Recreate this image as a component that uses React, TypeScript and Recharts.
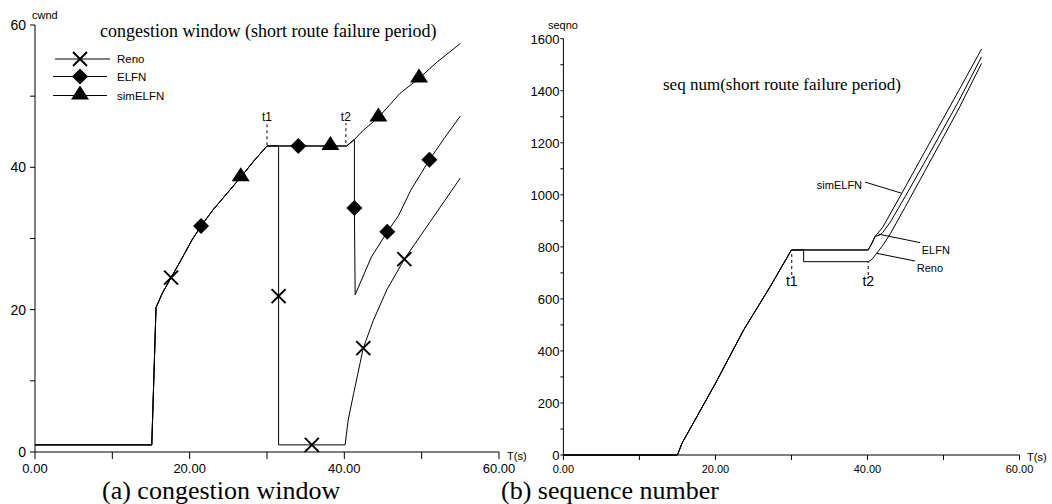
import React from 'react';
import { LineChart, Line, XAxis, YAxis, ReferenceLine, ReferenceDot, Legend } from 'recharts';

// ---------- (a) congestion window ----------
const cwndRenoT = [0, 15.1, 15.65, 16.5, 17.6, 19, 20.3, 21.5, 23, 24.8, 26.6, 28.3, 30, 31.5, 31.5, 31.5, 35.8, 40.1, 40.5, 41.2, 42.45, 43.75, 45.5, 47.76, 51, 55];
const cwndRenoV = [1, 1, 20.3, 22.4, 24.5, 27.2, 29.8, 31.8, 34, 36.3, 38.6, 40.9, 43, 43, 21.9, 1, 1, 1, 4.5, 8.2, 14.6, 18.5, 22.8, 27.1, 32.2, 38.5];
const cwndRenoMarks = [4, 14, 16, 20, 23];

const cwndElfnT = [0, 15.1, 15.65, 16.5, 17.6, 19, 20.3, 21.47, 23, 24.8, 26.6, 28.3, 30, 34.05, 40.3, 41.3, 41.3, 41.4, 43.5, 45.56, 47, 48.6, 51, 53, 55];
const cwndElfnV = [1, 1, 20.3, 22.4, 24.5, 27.2, 29.8, 31.75, 34, 36.3, 38.6, 40.9, 43, 43, 43, 43.9, 34.3, 22.1, 27.4, 30.95, 33.2, 36.8, 41.05, 44.2, 47.2];
const cwndElfnMarks = [7, 13, 16, 19, 22];

const cwndSimT = [0, 15.1, 15.65, 16.5, 17.6, 19, 20.3, 21.47, 23, 24.8, 26.6, 28.3, 30, 38.2, 40.3, 41.3, 42.45, 44.4, 47.2, 49.66, 52, 55];
const cwndSimV = [1, 1, 20.3, 22.4, 24.5, 27.2, 29.8, 31.75, 34, 36.3, 38.6, 40.9, 43, 43, 43, 43.9, 45.2, 47, 50.4, 52.5, 54.8, 57.4];
const cwndSimMarks = [10, 13, 17, 19];

// ---------- (b) sequence number ----------
const seqRenoT = [0, 15, 15.6, 20, 23.7, 27.2, 30, 31.6, 31.6, 40.1, 40.6, 41.2, 42, 43, 45, 48, 52, 55];
const seqRenoV = [0, 0, 45, 275, 480, 647, 788, 788, 743, 743, 752, 775, 805, 850, 955, 1115, 1330, 1505];

const seqElfnT = [0, 15, 15.6, 20, 23.7, 27.2, 30, 40.1, 40.6, 41.0, 41.6, 42, 43, 45, 48, 52, 55];
const seqElfnV = [0, 0, 45, 275, 480, 647, 788, 788, 815, 840, 845, 855, 895, 995, 1150, 1360, 1530];

const seqSimT = [0, 15, 15.6, 20, 23.7, 27.2, 30, 40.1, 40.6, 41.0, 42, 44.5, 48, 52, 55];
const seqSimV = [0, 0, 45, 275, 480, 647, 788, 788, 815, 840, 875, 1005, 1190, 1400, 1560];

const timeTicks = [0, 10, 20, 30, 40, 50, 60];
const cwndTicks = [0, 10, 20, 30, 40, 50, 60];
const seqTicks = [0, 100, 200, 300, 400, 500, 600, 700, 800, 900, 1000, 1100, 1200, 1300, 1400, 1500, 1600];

const legendNames = ['Reno', 'ELFN', 'simELFN'];
const legendShapes = ['x', 'diamond', 'triangle'];

const SANS = "'Liberation Sans', Arial, sans-serif";
const SERIF = "'Liberation Serif', 'Times New Roman', serif";

type Pt = { x: number; y: number; m: boolean };
const build = (t: number[], v: number[], marks: number[] = []): Pt[] =>
  t.map((x, i) => ({ x, y: v[i], m: marks.includes(i) }));

const cwndReno = build(cwndRenoT, cwndRenoV, cwndRenoMarks);
const cwndElfn = build(cwndElfnT, cwndElfnV, cwndElfnMarks);
const cwndSim = build(cwndSimT, cwndSimV, cwndSimMarks);
const seqReno = build(seqRenoT, seqRenoV);
const seqElfn = build(seqElfnT, seqElfnV);
const seqSim = build(seqSimT, seqSimV);

function Marker({ kind, cx, cy }: { kind: string; cx: number; cy: number }) {
  if (kind === 'x') {
    return (
      <g stroke="#000" strokeWidth={2}>
        <line x1={cx - 7} y1={cy - 7} x2={cx + 7} y2={cy + 7} />
        <line x1={cx - 7} y1={cy + 7} x2={cx + 7} y2={cy - 7} />
      </g>
    );
  }
  if (kind === 'diamond') {
    return <polygon points={`${cx},${cy - 8} ${cx + 8},${cy} ${cx},${cy + 8} ${cx - 8},${cy}`} fill="#000" />;
  }
  return <polygon points={`${cx},${cy - 10} ${cx + 9},${cy + 4} ${cx - 9},${cy + 4}`} fill="#000" />;
}

const makeDot = (kind: string) => (props: any) => {
  const { cx, cy, payload, index } = props;
  if (!payload || !payload.m) return <g key={`e${kind}${index}`} />;
  return (
    <g key={`m${kind}${index}`}>
      <Marker kind={kind} cx={cx} cy={cy} />
    </g>
  );
};

const LeftXTick = (props: any) => {
  const { x, y, payload } = props;
  if (payload.value % 20 !== 0) return <g />;
  return (
    <text x={x} y={y + 12} textAnchor="middle" fontSize={13} fontFamily={SANS} fill="#000">
      {payload.value.toFixed(2)}
    </text>
  );
};
const LeftYTick = (props: any) => {
  const { x, y, payload } = props;
  if (payload.value % 20 !== 0) return <g />;
  return (
    <text x={x} y={y + 5} textAnchor="end" fontSize={14} fontFamily={SANS} fill="#000">
      {payload.value}
    </text>
  );
};
const RightXTick = (props: any) => {
  const { x, y, payload } = props;
  if (payload.value % 20 !== 0) return <g />;
  return (
    <text x={x} y={y + 11} textAnchor="middle" fontSize={11} fontFamily={SANS} fill="#000">
      {payload.value.toFixed(2)}
    </text>
  );
};
const RightYTick = (props: any) => {
  const { x, y, payload } = props;
  if (payload.value % 200 !== 0) return <g />;
  return (
    <text x={x} y={y + 5} textAnchor="end" fontSize={13} fontFamily={SANS} fill="#000">
      {payload.value}
    </text>
  );
};

const renderLegend = () => (
  <svg width={130} height={60} style={{ display: 'block' }}>
    {legendNames.map((name, i) => {
      const ry = [11, 28.5, 47.5][i];
      return (
        <g key={name}>
          <line x1={i === 0 ? 6 : 4} y1={ry} x2={i === 0 ? 61 : 58} y2={ry} stroke="#000" strokeWidth={1} />
          <Marker kind={legendShapes[i]} cx={31} cy={ry} />
          <text x={68} y={ry + 4} fontSize={11.5} fontFamily={SANS} fill="#000">
            {name}
          </text>
        </g>
      );
    })}
  </svg>
);

const lineCommon = {
  type: 'linear' as const,
  dataKey: 'y',
  stroke: '#000',
  strokeWidth: 1,
  activeDot: false as const,
  isAnimationActive: false,
};

const dash = '3 3';

export default function App() {
  return (
    <div style={{ position: 'absolute', left: 0, top: 0, width: 1052, height: 504, background: '#fff', overflow: 'hidden' }}>
      <div style={{ position: 'absolute', left: 0, top: 0 }}>
        <LineChart width={540} height={504} margin={{ top: 25, right: 41, bottom: 22, left: 5 }}>
          <XAxis
            type="number"
            dataKey="x"
            domain={[0, 60]}
            ticks={timeTicks}
            interval={0}
            tickSize={7}
            tick={LeftXTick}
            height={30}
            axisLine={{ stroke: '#000' }}
            tickLine={{ stroke: '#000' }}
          />
          <YAxis
            type="number"
            domain={[0, 60]}
            ticks={cwndTicks}
            interval={0}
            tickSize={5}
            tickMargin={4}
            tick={LeftYTick}
            width={30}
            axisLine={{ stroke: '#000' }}
            tickLine={{ stroke: '#000' }}
          />
          <Legend
            layout="vertical"
            align="center"
            verticalAlign="middle"
            content={renderLegend}
            wrapperStyle={{ left: 49, top: 48, width: 130, height: 60 }}
          />
          <Line {...lineCommon} data={cwndReno} name="Reno" dot={makeDot('x')} />
          <Line {...lineCommon} data={cwndElfn} name="ELFN" dot={makeDot('diamond')} />
          <Line {...lineCommon} data={cwndSim} name="simELFN" dot={makeDot('triangle')} />
          <ReferenceLine
            segment={[{ x: 30, y: 43.1 }, { x: 30, y: 46.2 }]}
            stroke="#000"
            strokeDasharray={dash}
            ifOverflow="visible"
            label={{ value: 't1', position: 'top', offset: 2, fontSize: 12, fill: '#000', fontFamily: SANS }}
          />
          <ReferenceLine
            segment={[{ x: 40.2, y: 43.4 }, { x: 40.2, y: 46.2 }]}
            stroke="#000"
            strokeDasharray={dash}
            ifOverflow="visible"
            label={{ value: 't2', position: 'top', offset: 2, fontSize: 12, fill: '#000', fontFamily: SANS }}
          />
        </LineChart>
      </div>

      <div style={{ position: 'absolute', left: 520, top: 0 }}>
        <LineChart width={532} height={504} margin={{ top: 38.7, right: 32.5, bottom: 19, left: 3.4 }}>
          <XAxis
            type="number"
            dataKey="x"
            domain={[0, 60]}
            ticks={timeTicks}
            interval={0}
            tickSize={5}
            tick={RightXTick}
            height={30}
            axisLine={{ stroke: '#000' }}
            tickLine={{ stroke: '#000' }}
          />
          <YAxis
            type="number"
            domain={[0, 1600]}
            ticks={seqTicks}
            interval={0}
            tickSize={3}
            tickMargin={1}
            tick={RightYTick}
            width={40}
            axisLine={{ stroke: '#000' }}
            tickLine={{ stroke: '#000' }}
          />
          <Line {...lineCommon} data={seqReno} name="Reno" dot={false} />
          <Line {...lineCommon} data={seqElfn} name="ELFN" dot={false} />
          <Line {...lineCommon} data={seqSim} name="simELFN" dot={false} />
          <ReferenceLine
            segment={[{ x: 30.04, y: 692 }, { x: 30.04, y: 780 }]}
            stroke="#000"
            strokeDasharray={dash}
            ifOverflow="visible"
            label={{ value: 't1', position: 'bottom', offset: 1, fontSize: 14, fill: '#000', fontFamily: SANS }}
          />
          <ReferenceLine
            segment={[{ x: 40.1, y: 692 }, { x: 40.1, y: 743 }]}
            stroke="#000"
            strokeDasharray={dash}
            ifOverflow="visible"
            label={{ value: 't2', position: 'bottom', offset: 1, fontSize: 14, fill: '#000', fontFamily: SANS }}
          />
          <ReferenceLine segment={[{ x: 39.68, y: 1049 }, { x: 44.5, y: 1006 }]} stroke="#000" ifOverflow="visible" />
          <ReferenceLine segment={[{ x: 46.95, y: 816 }, { x: 41.43, y: 849 }]} stroke="#000" ifOverflow="visible" />
          <ReferenceLine segment={[{ x: 46.26, y: 745.6 }, { x: 41.22, y: 775.2 }]} stroke="#000" ifOverflow="visible" />
          <ReferenceDot
            x={39.29}
            y={1037.7}
            r={0}
            fill="none"
            stroke="none"
            label={{ value: 'simELFN', position: 'left', offset: 0, fontSize: 11, fill: '#000', fontFamily: SANS }}
          />
          <ReferenceDot
            x={47.14}
            y={788}
            r={0}
            fill="none"
            stroke="none"
            label={{ value: 'ELFN', position: 'right', offset: 0, fontSize: 11, fill: '#000', fontFamily: SANS }}
          />
          <ReferenceDot
            x={46.49}
            y={717.5}
            r={0}
            fill="none"
            stroke="none"
            label={{ value: 'Reno', position: 'right', offset: 0, fontSize: 11, fill: '#000', fontFamily: SANS }}
          />
        </LineChart>
      </div>

      <svg
        width={1052}
        height={504}
        style={{ position: 'absolute', left: 0, top: 0, pointerEvents: 'none' }}
      >
        <text x={100} y={37} fontSize={18} fontFamily={SERIF} fill="#000">
          congestion window (short route failure period)
        </text>
        <text x={663} y={90} fontSize={17} fontFamily={SERIF} fill="#000">
          seq num(short route failure period)
        </text>
        <text x={32} y={19} fontSize={11} fontFamily={SANS} fill="#000">cwnd</text>
        <text x={548} y={29} fontSize={11} fontFamily={SANS} fill="#000">seqno</text>
        <text x={507} y={460} fontSize={11} fontFamily={SANS} fill="#000">T(s)</text>
        <text x={1027} y={461} fontSize={11} fontFamily={SANS} fill="#000">T(s)</text>
        <text x={102} y={499} fontSize={26} fontFamily={SERIF} fill="#000">(a) congestion window</text>
        <text x={501} y={499} fontSize={26} fontFamily={SERIF} fill="#000">(b) sequence number</text>
      </svg>
    </div>
  );
}
